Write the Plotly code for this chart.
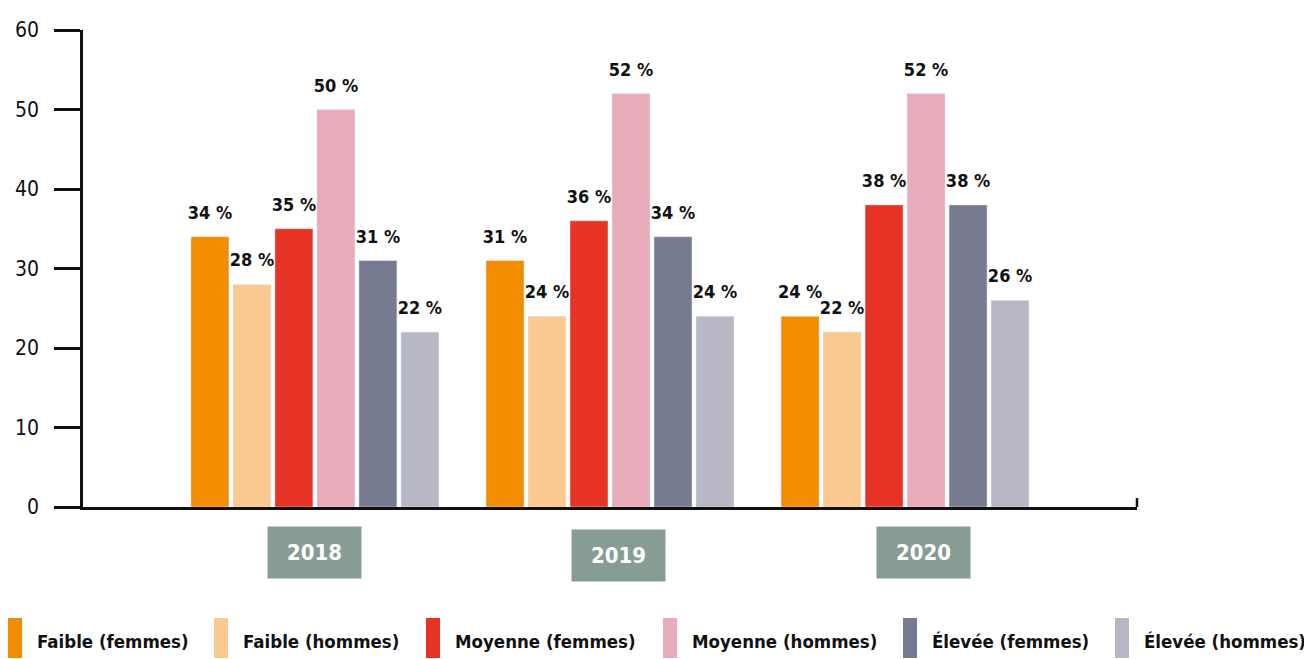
import plotly.graph_objects as go

years = ["2018", "2019", "2020"]
series = [
    "Faible (femmes)", "Faible (hommes)", "Moyenne (femmes)",
    "Moyenne (hommes)", "Élevée (femmes)", "Élevée (hommes)",
]
faible_femmes = [34, 31, 24]
faible_hommes = [28, 24, 22]
moyenne_femmes = [35, 36, 38]
moyenne_hommes = [50, 52, 52]
elevee_femmes = [31, 34, 38]
elevee_hommes = [22, 24, 26]
colors = ["#F28C00", "#FAC98F", "#E63323", "#E8ABBA", "#777B8F", "#B8B8C5"]
values = [faible_femmes, faible_hommes, moyenne_femmes,
          moyenne_hommes, elevee_femmes, elevee_hommes]

FONT = "DejaVu Sans Condensed, Liberation Sans Narrow, Roboto, sans-serif"
# page body has an 8px margin, so the figure is shifted by that much
OFF = 8
W, H = 1312 - OFF, 659 - OFF
L, R, T, B = 83 - OFF, 175, 30 - OFF, 152
pw, ph = W - L - R, H - T - B
GAP = 0.146


# helpers: reference screenshot pixels -> paper coords
def px_x(x):
    return (x - OFF - L) / pw


def px_y(y):
    return (H - B - (y - OFF)) / ph


fig = go.Figure()
for k, (name, vals, col) in enumerate(zip(series, values, colors)):
    fig.add_trace(go.Bar(
        x=list(range(len(years))), y=vals, name=name, marker_color=col,
        offsetgroup=str(k), alignmentgroup="a", showlegend=False,
    ))
# value labels: grouped text-only scatter, lifted by an invisible marker
for k, vals in enumerate(values):
    fig.add_trace(go.Scatter(
        x=list(range(len(years))), y=vals, mode="markers+text",
        marker=dict(size=20, color="rgba(0,0,0,0)"),
        text=[f"<b>{v} %</b>" for v in vals], textposition="top center",
        textfont=dict(family=FONT, size=18, color="#111"),
        offsetgroup=str(k), alignmentgroup="a", cliponaxis=False,
        showlegend=False, hoverinfo="skip",
    ))

shapes = [dict(type="line", xref="paper", yref="paper",
               x0=1, x1=1, y0=0, y1=px_y(498),
               line=dict(color="#111", width=2.5))]
annotations = []
# year boxes sit slightly off-centre in the reference
box_shift = [0, 8, 18]
box_y = [552, 555, 552]
for i, y in enumerate(years):
    annotations.append(dict(
        x=i, y=px_y(box_y[i]), xref="x", yref="paper", yanchor="middle",
        xshift=box_shift[i], text=f"<b>{y}</b>", showarrow=False,
        bgcolor="#879C93", width=91, height=49,
        font=dict(family=FONT, size=22, color="white"),
    ))

legend_x = [8, 214, 426, 663, 903, 1115]
for name, col, lx in zip(series, colors, legend_x):
    shapes.append(dict(type="rect", xref="paper", yref="paper",
                       x0=px_x(lx), x1=px_x(lx + 14), y0=px_y(618), y1=px_y(658),
                       fillcolor=col, line=dict(width=0)))
    annotations.append(dict(
        x=px_x(lx + 27), y=px_y(641), xref="paper", yref="paper",
        xanchor="left", yanchor="middle", showarrow=False,
        text=f"<b>{name}</b>", font=dict(family=FONT, size=18.5, color="#111"),
    ))

fig.update_layout(
    width=W, height=H, margin=dict(l=L, r=R, t=T, b=B),
    plot_bgcolor="white", paper_bgcolor="white",
    barmode="group", bargap=GAP, bargroupgap=0.095,
    scattermode="group", scattergap=GAP,
    font=dict(family=FONT, color="#111"),
    shapes=shapes, annotations=annotations,
)
fig.update_xaxes(range=[-0.786, 2.786], showticklabels=False, ticks="",
                 showline=True, linecolor="#111", linewidth=2.5,
                 showgrid=False, zeroline=False, automargin=False)
fig.update_yaxes(range=[0, 60], dtick=10, ticks="outside", ticklen=26,
                 tickwidth=2.5, tickcolor="#111", showline=True,
                 linecolor="#111", linewidth=2.5, showgrid=False,
                 zeroline=False, ticklabelstandoff=11, automargin=False,
                 tickfont=dict(family=FONT, size=21, color="#111"))

fig.write_html("out.html")
